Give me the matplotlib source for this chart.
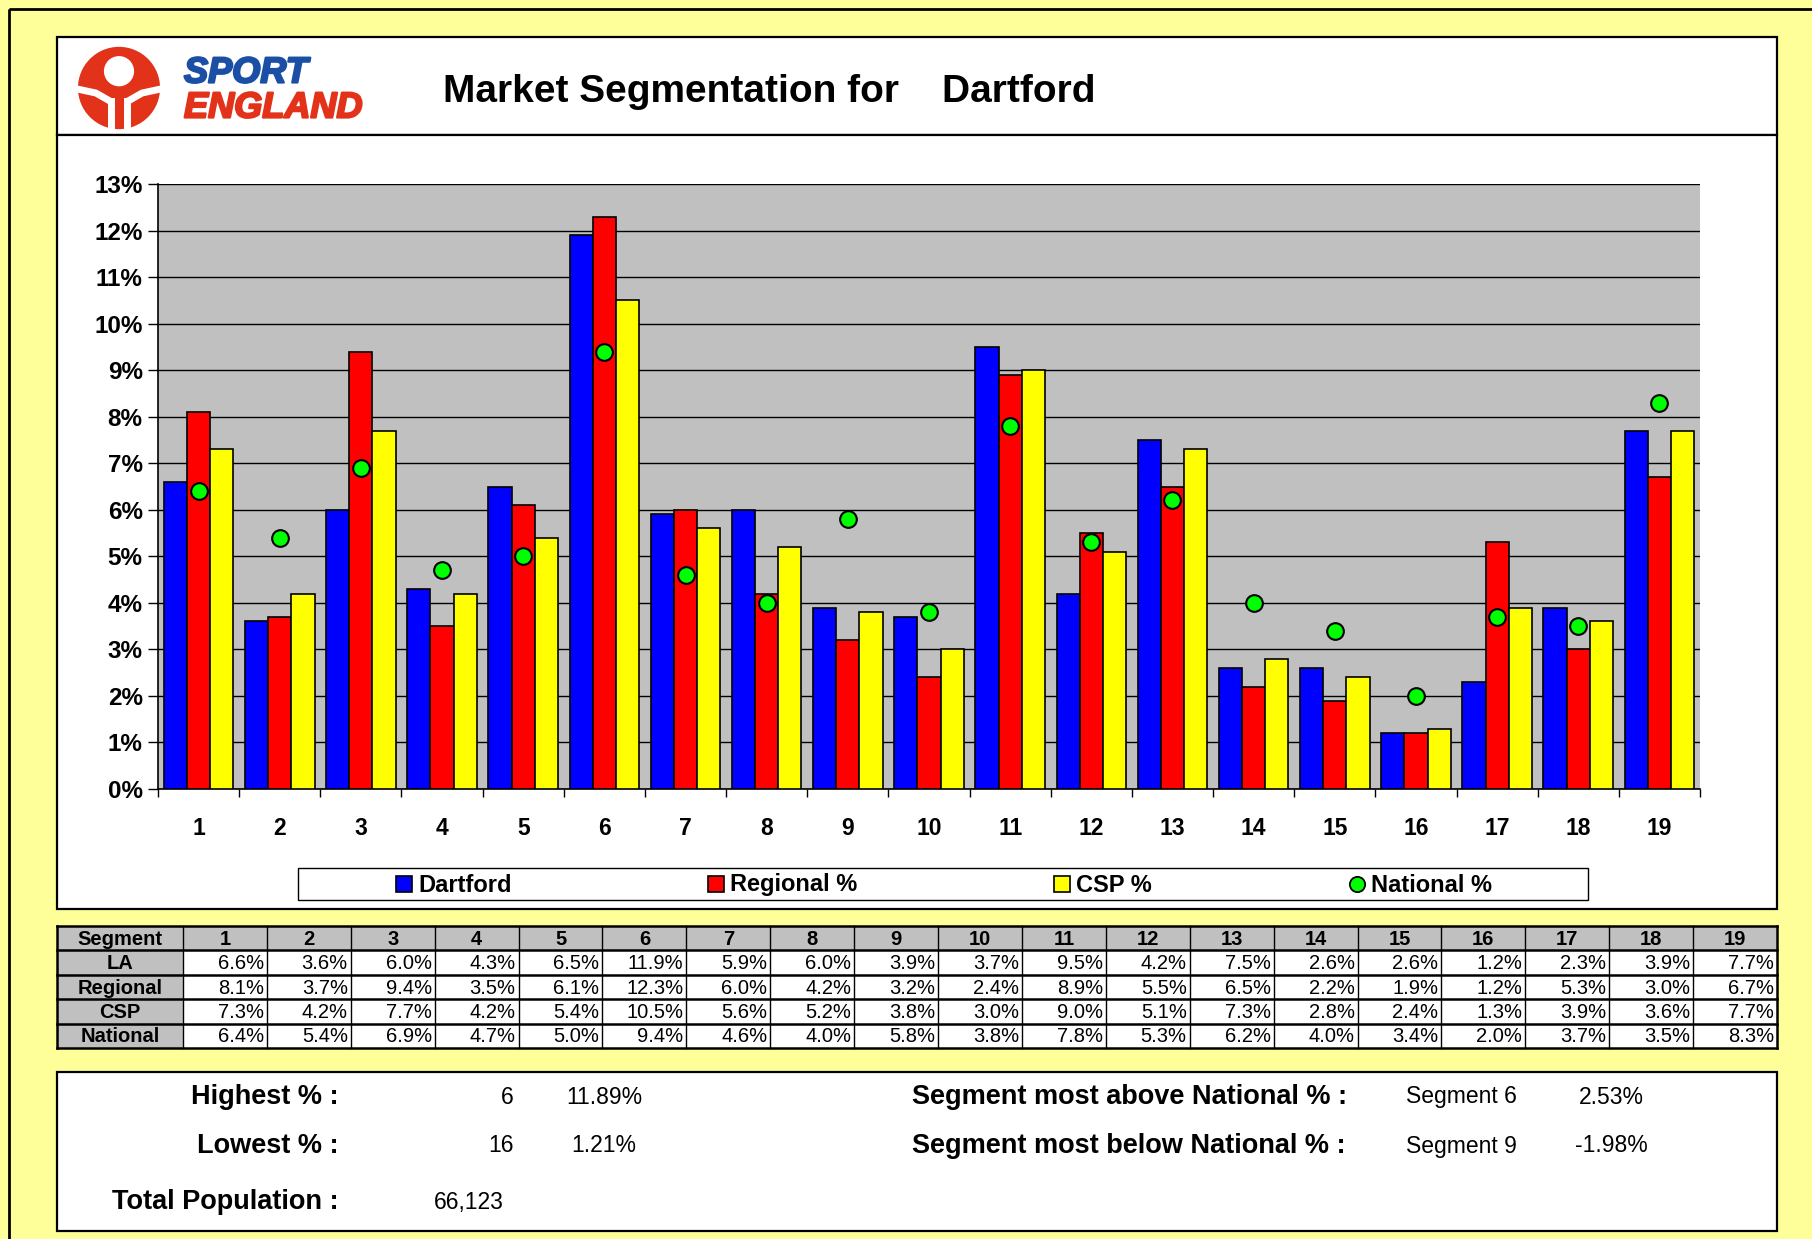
import matplotlib
matplotlib.use("Agg")
import matplotlib.pyplot as plt
import matplotlib.patheffects as pe
import numpy as np
from matplotlib.patches import Rectangle, Circle, Polygon
from matplotlib import font_manager

W, H = 1812, 1239

# ---------------- data ----------------
segments = list(range(1, 20))
la_pct = [6.6, 3.6, 6.0, 4.3, 6.5, 11.9, 5.9, 6.0, 3.9, 3.7, 9.5, 4.2, 7.5, 2.6, 2.6, 1.2, 2.3, 3.9, 7.7]
regional_pct = [8.1, 3.7, 9.4, 3.5, 6.1, 12.3, 6.0, 4.2, 3.2, 2.4, 8.9, 5.5, 6.5, 2.2, 1.9, 1.2, 5.3, 3.0, 6.7]
csp_pct = [7.3, 4.2, 7.7, 4.2, 5.4, 10.5, 5.6, 5.2, 3.8, 3.0, 9.0, 5.1, 7.3, 2.8, 2.4, 1.3, 3.9, 3.6, 7.7]
national_pct = [6.4, 5.4, 6.9, 4.7, 5.0, 9.4, 4.6, 4.0, 5.8, 3.8, 7.8, 5.3, 6.2, 4.0, 3.4, 2.0, 3.7, 3.5, 8.3]

series_names = ['Dartford', 'Regional %', 'CSP %', 'National %']
row_labels = ['LA', 'Regional', 'CSP', 'National']

highest_seg, highest_val = '6', '11.89%'
lowest_seg, lowest_val = '16', '1.21%'
total_population = '66,123'
above_seg, above_val = 'Segment 6', '2.53%'
below_seg, below_val = 'Segment 9', '-1.98%'

# colours
BLUE, RED, YELLOW, GREEN = '#0000FF', '#FF0000', '#FFFF00', '#00FF00'
BG_YELLOW = '#FFFF99'
GREY = '#C0C0C0'

names = {f.name for f in font_manager.fontManager.ttflist}
SANS = 'Liberation Sans'
NARROW = 'Liberation Sans Narrow' if 'Liberation Sans Narrow' in names else SANS


def fbox(x0, y0, x1, y1):
    # pixel box (top-left origin) -> figure fraction
    return [x0 / W, 1 - y1 / H, (x1 - x0) / W, (y1 - y0) / H]


fig = plt.figure(figsize=(W / 100, H / 100), dpi=100, facecolor=BG_YELLOW)

# background layer in pixel coords
bg = fig.add_axes([0, 0, 1, 1], zorder=0)
bg.set_xlim(0, W)
bg.set_ylim(H, 0)
bg.axis('off')

bg.add_patch(Rectangle((9, 9), W, H, fill=False, ec='black', lw=2))
bg.add_patch(Rectangle((57, 37), 1720, 98, fc='white', ec='black', lw=1.6))
bg.add_patch(Rectangle((57, 135), 1720, 774, fc='white', ec='black', lw=1.6))
bg.add_patch(Rectangle((57, 1072), 1720, 159, fc='white', ec='black', lw=1.6))

bg.text(443, 92, 'Market Segmentation for    Dartford', fontsize=28, fontweight='bold',
        family=SANS, ha='left', va='center')

# ---------------- logo ----------------
lg = fig.add_axes(fbox(75, 46, 163, 130), zorder=2)
lg.set_xlim(-1.05, 1.05)
lg.set_ylim(-1.0, 1.0)
lg.axis('off')
LOGO_RED = '#E2321A'
lg.add_patch(Circle((0, 0), 0.98, fc=LOGO_RED, ec='none'))
lg.add_patch(Circle((0, 0.4), 0.36, fc='white', ec='none'))
lg.plot([-1.2, -0.55, -0.2], [0.02, -0.12, -0.32], color='white', lw=5, solid_capstyle='butt')
lg.plot([1.2, 0.55, 0.2], [0.02, -0.12, -0.32], color='white', lw=5, solid_capstyle='butt')
lg.plot([-0.2, -0.2], [-0.32, -1.1], color='white', lw=5)
lg.plot([0.2, 0.2], [-0.32, -1.1], color='white', lw=5)
lg.add_patch(Polygon([[-0.9, -1.0], [-1.05, -0.2], [-1.05, -1.0]], fc='white', ec='none'))
lg.add_patch(Polygon([[0.9, -1.0], [1.05, -0.2], [1.05, -1.0]], fc='white', ec='none'))

bg.text(184, 73, 'SPORT', fontsize=26, fontweight='bold', style='italic', color='#1B4FA5',
        family=SANS, ha='left', va='center',
        path_effects=[pe.withStroke(linewidth=1.6, foreground='#1B4FA5')])
bg.text(184, 108, 'ENGLAND', fontsize=26, fontweight='bold', style='italic', color=LOGO_RED,
        family=SANS, ha='left', va='center',
        path_effects=[pe.withStroke(linewidth=1.6, foreground=LOGO_RED)])

# ---------------- bar chart ----------------
ax = fig.add_axes(fbox(158, 184, 1700, 789), zorder=1)
ax.set_facecolor(GREY)
x = np.arange(len(segments))
w = 0.2857
ax.bar(x - w, la_pct, w, color=BLUE, edgecolor='black', linewidth=1.2, zorder=3)
ax.bar(x, regional_pct, w, color=RED, edgecolor='black', linewidth=1.2, zorder=3)
ax.bar(x + w, csp_pct, w, color=YELLOW, edgecolor='black', linewidth=1.2, zorder=3)
ax.plot(x, national_pct, linestyle='none', marker='o', ms=12, mfc=GREEN, mec='black', mew=1.5, zorder=4)

ax.set_xlim(-0.5, len(segments) - 0.5)
ax.set_ylim(0, 13)
ax.set_yticks(np.arange(0, 14, 1))
ax.set_yticklabels(['%d%%' % v for v in range(0, 14)], fontsize=17.5, fontweight='bold', family=SANS)
ax.yaxis.grid(True, color='black', lw=1.0)
ax.set_axisbelow(True)
ax.set_xticks(x)
ax.set_xticklabels([str(s) for s in segments], fontsize=16.5, fontweight='bold', family=SANS)
ax.set_xticks(np.arange(-0.5, len(segments)), minor=True)
ax.tick_params(axis='x', which='major', length=0, pad=20)
ax.tick_params(axis='x', which='minor', length=6, width=1, direction='out')
ax.tick_params(axis='y', length=7, width=1, pad=4)
for s in ['top', 'right']:
    ax.spines[s].set_visible(False)
ax.spines['left'].set_linewidth(1.2)
ax.spines['bottom'].set_linewidth(1.2)

# ---------------- legend ----------------
bg.add_patch(Rectangle((298, 868), 1290, 32, fc='white', ec='black', lw=1))
leg_x = [404, 716, 1062, 1357]
leg_col = [BLUE, RED, YELLOW]
for i, name in enumerate(series_names):
    cx, cy = leg_x[i], 884
    if i < 3:
        bg.add_patch(Rectangle((cx - 8, cy - 8), 16, 16, fc=leg_col[i], ec='black', lw=1.2))
    else:
        bg.plot([cx], [cy], marker='o', ms=11, mfc=GREEN, mec='black', mew=1.3)
    bg.text(cx + 14, cy + 1, name, fontsize=17, fontweight='bold', family=NARROW, ha='left', va='center')

# ---------------- table ----------------
t_left, t_right, t_top, t_bot = 57, 1777, 926, 1048
c0 = 183
cw = (t_right - c0) / len(segments)
rh = (t_bot - t_top) / 5
table_rows = [la_pct, regional_pct, csp_pct, national_pct]

bg.add_patch(Rectangle((t_left, t_top), t_right - t_left, rh, fc=GREY, ec='none'))
bg.add_patch(Rectangle((t_left, t_top), c0 - t_left, t_bot - t_top, fc=GREY, ec='none'))
bg.add_patch(Rectangle((c0, t_top + rh), t_right - c0, t_bot - t_top - rh, fc='white', ec='none'))
for r in range(6):
    yy = t_top + r * rh
    bg.plot([t_left, t_right], [yy, yy], color='black', lw=1.8)
bg.plot([t_left, t_left], [t_top, t_bot], color='black', lw=1.8)
bg.plot([c0, c0], [t_top, t_bot], color='black', lw=1.0)
for j in range(len(segments)):
    xx = c0 + (j + 1) * cw
    bg.plot([xx, xx], [t_top, t_bot], color='black', lw=1.8 if j == len(segments) - 1 else 1.0)

bg.text((t_left + c0) / 2, t_top + rh / 2 + 1, 'Segment', fontsize=14.5, fontweight='bold',
        family=NARROW, ha='center', va='center')
for j, s in enumerate(segments):
    bg.text(c0 + (j + 0.5) * cw, t_top + rh / 2 + 1, str(s), fontsize=14.5, fontweight='bold',
            family=NARROW, ha='center', va='center')
for r, (lab, vals) in enumerate(zip(row_labels, table_rows)):
    yy = t_top + (r + 1.5) * rh + 1
    bg.text((t_left + c0) / 2, yy, lab, fontsize=14.5, fontweight='bold', family=NARROW,
            ha='center', va='center')
    for j, v in enumerate(vals):
        bg.text(c0 + (j + 1) * cw - 3, yy, '%.1f%%' % v, fontsize=14.5, family=NARROW,
                ha='right', va='center')

# ---------------- summary ----------------
lab_kw = dict(fontsize=19.5, fontweight='bold', family=SANS, va='center')
val_kw = dict(fontsize=16.5, family=SANS, va='center')
bg.text(339, 1097, 'Highest % :', ha='right', **lab_kw)
bg.text(339, 1146, 'Lowest % :', ha='right', **lab_kw)
bg.text(339, 1202, 'Total Population :', ha='right', **lab_kw)
bg.text(514, 1097, highest_seg, ha='right', **val_kw)
bg.text(514, 1146, lowest_seg, ha='right', **val_kw)
bg.text(604, 1097, highest_val, ha='center', **val_kw)
bg.text(604, 1146, lowest_val, ha='center', **val_kw)
bg.text(434, 1202, total_population, ha='left', **val_kw)
bg.text(912, 1097, 'Segment most above National % :', ha='left', **lab_kw)
bg.text(912, 1146, 'Segment most below National % :', ha='left', **lab_kw)
bg.text(1406, 1097, above_seg, ha='left', **val_kw)
bg.text(1406, 1146, below_seg, ha='left', **val_kw)
bg.text(1611, 1097, above_val, ha='center', **val_kw)
bg.text(1611, 1146, below_val, ha='center', **val_kw)

fig.savefig('out.png', dpi=100, facecolor=BG_YELLOW)
